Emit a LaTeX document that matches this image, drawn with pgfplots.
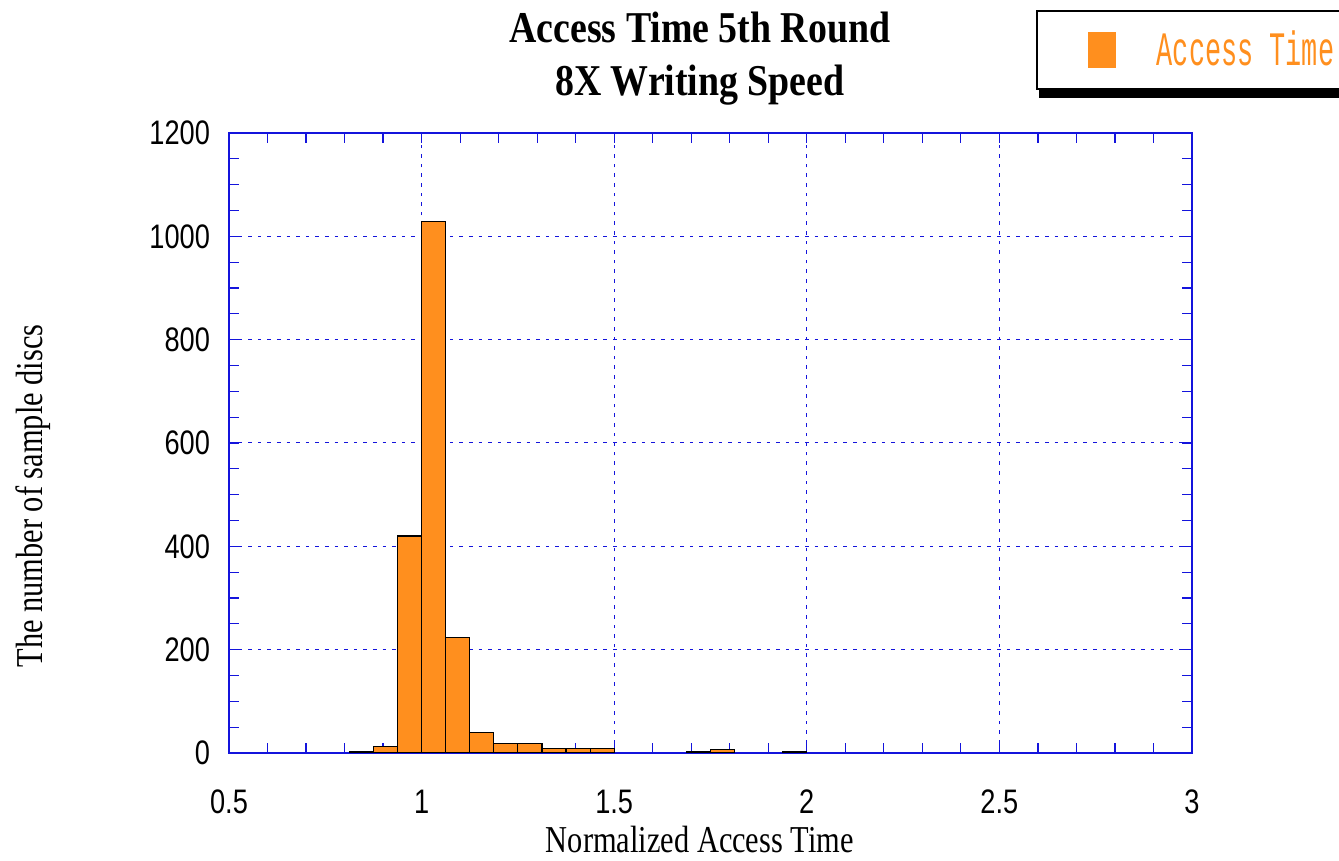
\documentclass[border=0pt]{standalone}
\usepackage{fontspec}
\setmainfont{Liberation Serif}
\newfontfamily\tickfamily[FakeStretch=0.8]{Liberation Sans}
\newfontfamily\titlefamily[FakeStretch=0.86]{Liberation Serif}
\newfontfamily\labelfamily[FakeStretch=0.8]{Liberation Serif}
\newfontfamily\legfamily[FakeStretch=0.56]{Liberation Mono}
\usepackage{pgfplots}
\pgfplotsset{compat=1.18}
\usetikzlibrary{shadows}

\definecolor{barorange}{RGB}{255,143,30}
\definecolor{axisblue}{RGB}{20,20,220}

\begin{document}
\begin{tikzpicture}[x=1pt,y=1pt]
\clip (-114.5,-54) rectangle (555,376.5);
\begin{axis}[
    at={(0,0)}, anchor=south west,
    scale only axis,
    width=481.5pt, height=310pt,
    xmin=0.5, xmax=3,
    ymin=0, ymax=1200,
    xtick={0.5,1,1.5,2,2.5,3},
    ytick={0,200,400,600,800,1000,1200},
    minor x tick num=4,
    minor y tick num=3,
    tick align=inside,
    major tick length=5pt,
    minor tick length=5pt,
    every tick/.style={axisblue, line width=0.6pt},
    axis line style={axisblue, line width=0.8pt},
    grid=major,
    major grid style={axisblue, dash pattern=on 1.8pt off 3pt, line width=0.5pt},
    /pgf/number format/assume math mode=true,
    /pgf/number format/1000 sep={},
    ticklabel style={font=\tickfamily\fontsize{17}{20}\selectfont},
    xticklabel style={yshift=-15pt},
    yticklabel style={xshift=-6pt},
    title={Access Time 5th Round\\8X Writing Speed},
    title style={font=\titlefamily\bfseries\fontsize{22}{26.5}\selectfont,
        align=center, at={(axis description cs:0.489,1.176)}, anchor=north, inner sep=0pt},
    xlabel={Normalized Access Time},
    xlabel style={font=\labelfamily\fontsize{19}{22}\selectfont,
        at={(axis description cs:0.489,-0.140)}, anchor=center},
    ylabel={The number of sample discs},
    ylabel style={font=\labelfamily\fontsize{19}{22}\selectfont,
        at={(axis description cs:-0.2035,0.4145)}, anchor=center},
    legend style={at={(axis description cs:0.838,1.198)}, anchor=north west,
        draw=black, line width=0.8pt, fill=white,
        drop shadow={shadow xshift=1pt, shadow yshift=-4.5pt, fill=black, opacity=1},
        font=\legfamily\fontsize{24}{26}\selectfont, text=barorange,
        inner xsep=10pt, inner ysep=7pt,
        nodes={inner sep=3pt}},
    legend cell align=left,
    legend image code/.code={%
        \pgfsetfillcolor{barorange}%
        \pgfpathrectangle{\pgfpoint{15.5pt}{-9pt}}{\pgfpoint{14pt}{18pt}}%
        \pgfusepath{fill}%
        \pgfpathrectangle{\pgfpoint{0pt}{-9pt}}{\pgfpoint{47pt}{18pt}}%
        \pgfusepath{discard}%
    },
]
% histogram bins, width 1/16
\addplot[ybar interval, fill=barorange, draw=black, line width=0.6pt]
    coordinates {
    (0.8125,2)(0.875,12)(0.9375,420)(1.0,1028)(1.0625,223)(1.125,39)
    (1.1875,19)(1.25,19)(1.3125,8)(1.375,8)(1.4375,8)(1.5,8)
    };
\addlegendentry{Access Time\hspace*{40pt}}
\addplot[ybar interval, fill=barorange, draw=black, line width=0.6pt, forget plot]
    coordinates {(1.6875,3)(1.75,7)(1.8125,7)};
\addplot[ybar interval, fill=barorange, draw=black, line width=0.6pt, forget plot]
    coordinates {(1.9375,3)(2.0,3)};
\end{axis}
\end{tikzpicture}
\end{document}
